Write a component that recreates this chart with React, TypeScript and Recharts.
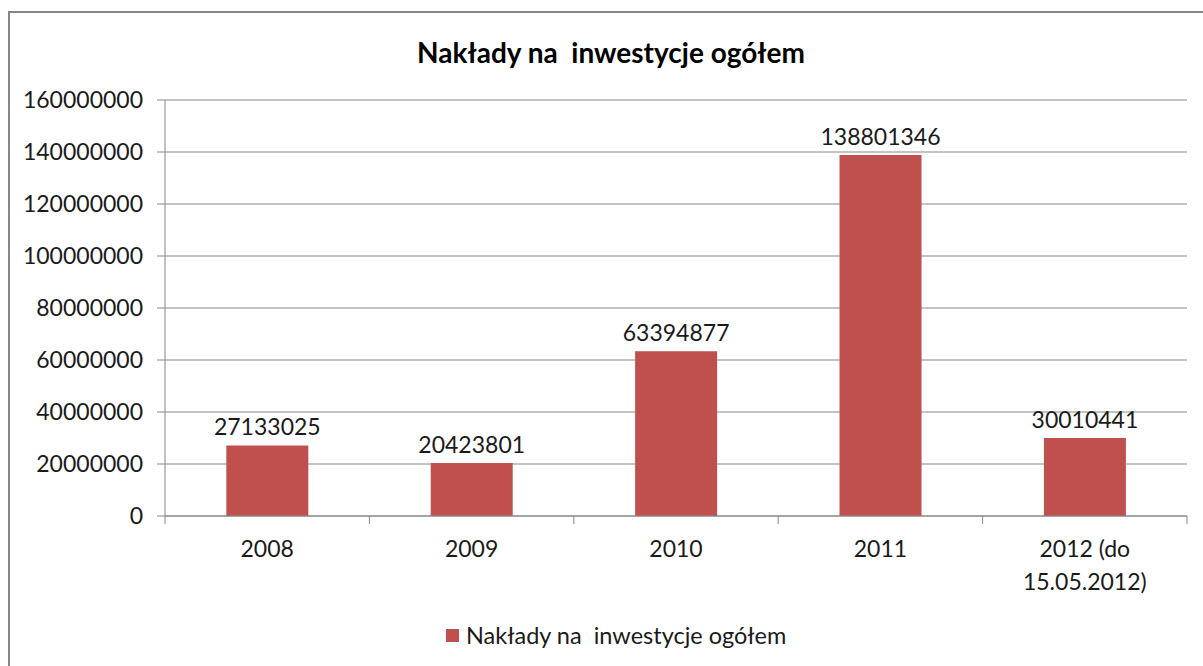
import { BarChart, Bar, XAxis, YAxis, CartesianGrid, Legend, LabelList } from 'recharts';

const years = ['2008', '2009', '2010', '2011', '2012 (do 15.05.2012)'];
const naklady = [27133025, 20423801, 63394877, 138801346, 30010441];
const yTicks = [0, 20000000, 40000000, 60000000, 80000000, 100000000, 120000000, 140000000, 160000000];

const seriesName = 'Nakłady na  inwestycje ogółem';
const barColor = '#C0504D';
const gridColor = '#878787';
const textColor = '#1a1a1a';
const font = "Lato, 'Open Sans', sans-serif";

const data = years.map((year, i) => ({ year, value: naklady[i] }));

const CHART_W = 1195;
const CHART_H = 650;
const MARGIN = { top: 87, right: 18, left: 0, bottom: 47 };
const Y_AXIS_W = 155;
const band = (CHART_W - MARGIN.left - MARGIN.right - Y_AXIS_W) / years.length;

// splits "2012 (do 15.05.2012)" into two lines like Excel does
function wrapLabel(label: string, maxChars = 10): string[] {
  const words = label.split(' ');
  const lines: string[] = [];
  let cur = '';
  for (const w of words) {
    const next = cur ? cur + ' ' + w : w;
    if (next.length > maxChars && cur) {
      lines.push(cur);
      cur = w;
    } else {
      cur = next;
    }
  }
  if (cur) lines.push(cur);
  return lines;
}

function CategoryTick(props: any) {
  const { x, y, payload, index } = props;
  const lines = wrapLabel(String(payload.value));
  const left = x - band / 2;
  const right = x + band / 2;
  return (
    <g>
      <line x1={left} y1={y} x2={left} y2={y + 8} stroke={gridColor} />
      {index === years.length - 1 && <line x1={right} y1={y} x2={right} y2={y + 8} stroke={gridColor} />}
      <text x={x} y={y + 41} textAnchor="middle" fill={textColor} fontSize={23} fontFamily={font}>
        {lines.map((l, i) => (
          <tspan key={i} x={x} dy={i === 0 ? 0 : 33}>
            {l}
          </tspan>
        ))}
      </text>
    </g>
  );
}

function LegendContent() {
  return (
    <div style={{ display: 'flex', alignItems: 'center', fontFamily: font, fontSize: 23.5, color: textColor, whiteSpace: 'pre' }}>
      <span style={{ width: 13, height: 13, background: barColor, marginRight: 7, display: 'inline-block' }} />
      <span>{seriesName}</span>
    </div>
  );
}

export default function App() {
  return (
    <div style={{ position: 'fixed', left: 0, top: 0, width: 1203, height: 666, overflow: 'hidden', background: '#fff' }}>
      <div
        style={{
          position: 'absolute',
          left: 8,
          top: 11,
          width: 1230,
          height: 690,
          border: '2px solid #878787',
          background: '#fff',
        }}
      >
        <div
          style={{
            position: 'absolute',
            left: 0,
            top: 23,
            width: 1202,
            textAlign: 'center',
            fontFamily: font,
            fontWeight: 700,
            fontSize: 28,
            lineHeight: '32px',
            color: '#000',
            whiteSpace: 'pre',
          }}
        >
          {seriesName}
        </div>
        <BarChart width={CHART_W} height={CHART_H} data={data} margin={MARGIN} barCategoryGap="30%">
          <CartesianGrid vertical={false} stroke={gridColor} />
          <XAxis
            dataKey="year"
            stroke={gridColor}
            tickLine={false}
            tickSize={0}
            tickMargin={0}
            interval={0}
            height={100}
            tick={<CategoryTick />}
          />
          <YAxis
            width={Y_AXIS_W}
            domain={[0, 160000000]}
            ticks={yTicks}
            interval={0}
            stroke={gridColor}
            tickSize={8}
            tickMargin={14}
            tick={{ fill: textColor, fontSize: 23, fontFamily: font }}
          />
          <Legend
            verticalAlign="middle"
            align="center"
            content={<LegendContent />}
            wrapperStyle={{ left: 436, top: 608, width: 'auto', height: 'auto' }}
          />
          <Bar dataKey="value" name={seriesName} fill={barColor} isAnimationActive={false}>
            <LabelList dataKey="value" position="top" offset={10} fill={textColor} fontSize={23} fontFamily={font} />
          </Bar>
        </BarChart>
      </div>
    </div>
  );
}
